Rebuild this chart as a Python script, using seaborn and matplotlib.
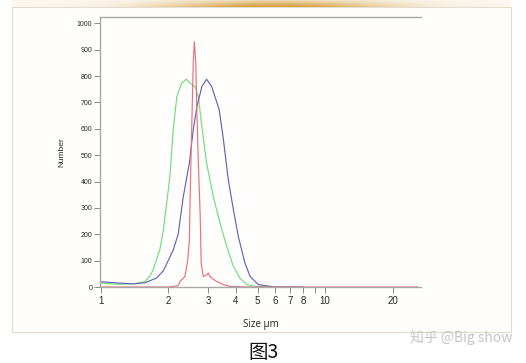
import numpy as np
import pandas as pd
import matplotlib
matplotlib.use("Agg")
import matplotlib.pyplot as plt
from matplotlib.patches import Rectangle
import seaborn as sns

# ---- data ----
green_size = [1.0, 1.2, 1.4, 1.57, 1.65, 1.71, 1.83, 1.90, 2.03, 2.10, 2.18, 2.29, 2.40, 2.50, 2.63, 2.72, 2.82, 2.96, 3.17, 3.40, 3.64, 3.90, 4.17, 4.47, 4.87, 6.0]
green_num = [15, 10, 12, 21, 40, 66, 141, 217, 419, 596, 722, 773, 788, 773, 760, 722, 608, 470, 343, 242, 154, 78, 34, 9, 2, 0]

blue_size = [1.0, 1.2, 1.4, 1.57, 1.77, 1.90, 2.10, 2.21, 2.33, 2.48, 2.58, 2.68, 2.82, 2.96, 3.12, 3.28, 3.37, 3.52, 3.70, 3.90, 4.10, 4.39, 4.63, 5.04, 5.86, 8.0]
blue_num = [20, 15, 12, 16, 34, 62, 140, 200, 343, 470, 596, 684, 760, 788, 760, 703, 672, 558, 406, 293, 192, 91, 40, 9, 1, 0]

red_size = [1.0, 2.0, 2.21, 2.25, 2.37, 2.44, 2.48, 2.50, 2.54, 2.58, 2.61, 2.65, 2.68, 2.72, 2.77, 2.80, 2.86, 2.96, 3.01, 3.07, 3.12, 3.28, 3.52, 3.77, 4.5, 26.0]
red_num = [0, 0, 5, 21, 40, 103, 179, 343, 596, 848, 930, 848, 659, 470, 280, 91, 40, 45, 53, 40, 34, 21, 9, 2, 0, 0]

x_ticks = [1, 2, 3, 4, 5, 6, 7, 8, 9, 10, 20]
x_tick_labels = ["1", "2", "3", "4", "5", "6", "7", "8", "", "10", "20"]
y_ticks = [0, 100, 200, 300, 400, 500, 600, 700, 800, 900, 1000]

df = pd.concat([
    pd.DataFrame({"size": green_size, "num": green_num, "s": "green"}),
    pd.DataFrame({"size": blue_size, "num": blue_num, "s": "blue"}),
    pd.DataFrame({"size": red_size, "num": red_num, "s": "red"}),
], ignore_index=True)

sns.set_style("white")
plt.rcParams['font.family'] = ['Liberation Sans', 'DejaVu Sans']

W, H = 526, 363
fig = plt.figure(figsize=(W / 100, H / 100), dpi=100)
fig.patch.set_facecolor("white")

# background axes: outer frame + gold gradient bar
bg = fig.add_axes([0, 0, 1, 1], zorder=0)
bg.axis("off")
bg.add_patch(Rectangle((12, 7), 511 - 12, 332 - 7, facecolor="#fffefc",
                       edgecolor="#e4dccd", linewidth=0.8))
xs = np.linspace(-1, 1, 500)
alpha_h = np.exp(-((xs - 0.05) / 0.45) ** 2)
ys = np.linspace(0, 1, 7)
alpha_v = 0.35 + 0.65 * ys
A = np.outer(alpha_v, alpha_h)
img = np.zeros((7, 500, 4))
img[..., 0] = 0.83
img[..., 1] = 0.62
img[..., 2] = 0.25
img[..., 3] = np.clip(A * 0.95 + 0.08, 0, 1)
bg.imshow(img, extent=(12, 511, 7, 0), aspect="auto", interpolation="bilinear")
bg.set_xlim(0, W)
bg.set_ylim(H, 0)

ax = fig.add_axes([100 / W, 1 - 287 / H, (421 - 100) / W, (287 - 17) / H], zorder=2)
ax.set_facecolor("none")
palette = {"green": "#72dc7c", "blue": "#6464b2", "red": "#e6727e"}
sns.lineplot(data=df, x="size", y="num", hue="s", palette=palette, ax=ax,
             legend=False, linewidth=0.85, sort=False, estimator=None)

ax.set_xscale("log")
ax.set_xlim(0.99, 26.8)
ax.set_ylim(0, 1024)
ax.set_xticks(x_ticks)
ax.set_xticklabels(x_tick_labels)
ax.xaxis.set_minor_locator(matplotlib.ticker.NullLocator())
ax.set_yticks(y_ticks)
ax.tick_params(axis="y", labelsize=5, length=4, width=0.6, color="#777777", pad=1.5, left=True)
ax.tick_params(axis="x", labelsize=7, length=4, width=0.6, color="#777777", pad=2.5, bottom=True)
for side in ["left", "bottom", "top"]:
    ax.spines[side].set_color("#a8a8a8")
    ax.spines[side].set_linewidth(1.0)
ax.spines["right"].set_visible(False)

ax.set_xlabel("Size µm", fontsize=7, family=["Open Sans", "DejaVu Sans"], labelpad=9)
ax.set_ylabel("Number", fontsize=6, labelpad=8)

fig.text(263 / W, 1 - 352 / H, "图3", ha="center", va="center", fontsize=14,
         family=["Noto Sans CJK SC", "DejaVu Sans"], color="#111111")
fig.text(512 / W, 1 - 338 / H, "知乎 @Big show", ha="right", va="center", fontsize=10,
         family=["Noto Sans CJK SC", "DejaVu Sans"], color="#c4c4c4")

fig.savefig("out.png", dpi=100)
